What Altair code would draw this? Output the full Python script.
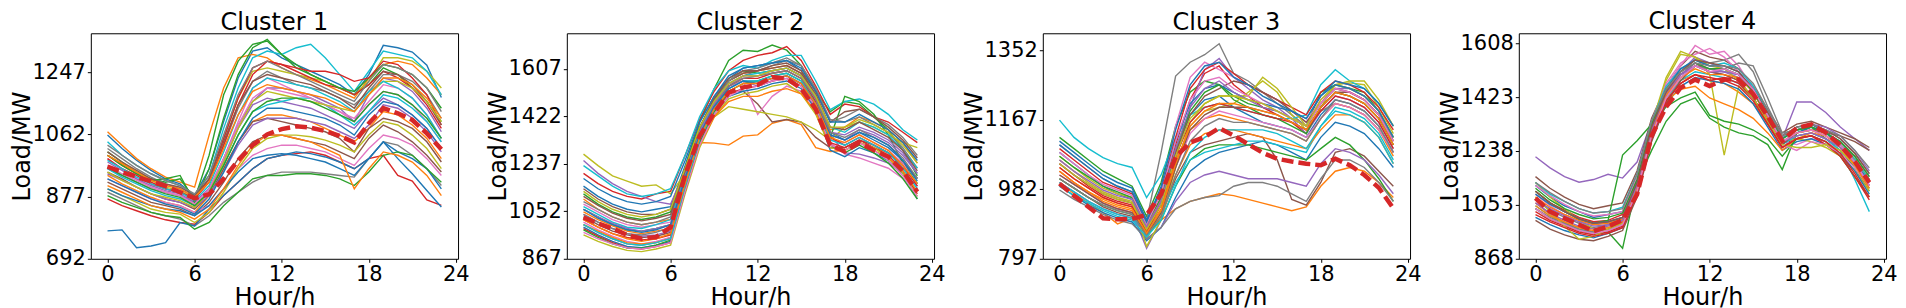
import altair as alt
import pandas as pd

HOURS = list(range(24))
X_TICKS = [0, 6, 12, 18, 24]
TAB10 = ["#1f77b4", "#ff7f0e", "#2ca02c", "#d62728", "#9467bd",
         "#8c564b", "#e377c2", "#7f7f7f", "#bcbd22", "#17becf"]

TITLES = ["Cluster 1", "Cluster 2", "Cluster 3", "Cluster 4"]
Y_DOMAINS = [[692, 1363], [867, 1746], [797, 1397], [868, 1642]]
Y_TICKS = [[692, 877, 1062, 1247], [867, 1052, 1237, 1422, 1607],
           [797, 982, 1167, 1352], [868, 1053, 1238, 1423, 1608]]

C1_LINES = [
    [1060,1020,985,955,930,915,880,960,1100,1230,1310,1320,1290,1270,1250,1230,1210,1180,1240,1327,1320,1307,1268,1172],
    [1070,1030,990,960,935,920,905,1060,1200,1290,1300,1290,1260,1240,1225,1210,1190,1170,1230,1270,1280,1270,1230,1180],
    [1010,980,950,930,920,930,870,1000,1180,1280,1330,1340,1300,1270,1240,1220,1200,1180,1210,1260,1240,1200,1160,1100],
    [870,850,835,820,808,800,795,830,880,920,960,990,1000,1005,1010,1000,980,960,990,1000,940,923,867,851],
    [960,940,920,900,890,880,860,900,980,1080,1150,1170,1160,1150,1140,1120,1100,1080,1130,1170,1150,1120,1080,1020],
    [920,900,880,860,850,840,820,860,920,990,1040,1060,1060,1050,1040,1030,1010,990,1050,1090,1070,1040,1000,950],
    [990,960,930,905,890,880,850,900,990,1100,1200,1230,1210,1190,1170,1150,1130,1100,1150,1190,1180,1150,1100,1040],
    [890,870,850,830,820,810,790,820,860,890,920,940,950,950,950,945,940,935,990,1040,1030,1000,960,910],
    [1000,975,950,925,905,895,870,930,1050,1170,1250,1260,1250,1240,1230,1220,1200,1180,1220,1290,1290,1280,1250,1200],
    [1040,1000,970,945,925,910,880,940,1080,1200,1290,1310,1300,1320,1330,1290,1240,1190,1250,1310,1300,1290,1250,1180],
    [775,778,725,730,740,800,790,840,880,920,960,990,1000,1010,1005,995,980,960,990,1040,1010,990,960,900],
    [940,915,895,875,860,850,830,880,960,1040,1100,1120,1120,1110,1100,1080,1060,1040,1080,1130,1120,1090,1050,990],
    [880,860,845,830,820,815,780,800,850,890,930,940,940,945,945,940,930,910,950,1000,1010,1000,960,920],
    [1000,970,945,920,900,890,870,930,1050,1170,1260,1280,1270,1250,1230,1210,1200,1180,1210,1250,1230,1200,1150,1080],
    [980,955,930,910,895,885,860,900,990,1090,1160,1200,1200,1190,1180,1160,1140,1100,1180,1230,1220,1190,1140,1070],
    [950,930,905,885,870,860,840,880,960,1040,1100,1110,1100,1090,1080,1070,1050,1010,1080,1110,1100,1080,1040,980],
    [930,910,890,870,860,850,830,850,900,960,1000,1020,1030,1030,1020,1010,990,970,1020,1060,1050,1030,990,940],
    [1020,990,960,935,915,900,875,920,1030,1140,1220,1250,1230,1210,1200,1190,1170,1150,1190,1240,1240,1220,1180,1110],
    [900,880,860,840,830,825,800,830,890,960,1020,1050,1060,1060,1055,1045,1030,1010,1060,1100,1090,1060,1020,960],
    [960,935,915,895,880,870,850,890,970,1060,1130,1150,1160,1170,1170,1150,1120,1090,1130,1180,1170,1140,1100,1040],
    [900,880,865,850,840,835,820,850,900,950,990,1000,1005,1000,990,980,960,940,990,1040,990,945,895,846],
    [910,890,870,850,840,830,810,840,900,970,1030,1060,1060,1050,1040,1020,1000,900,960,1010,1000,980,940,880],
    [1000,970,945,925,930,940,860,960,1110,1240,1320,1345,1300,1260,1240,1220,1200,1190,1230,1270,1260,1240,1200,1140],
    [990,960,940,915,900,890,870,920,1030,1150,1240,1280,1270,1260,1250,1250,1240,1220,1230,1280,1270,1230,1180,1090],
    [945,925,905,885,870,860,845,880,950,1030,1090,1110,1110,1110,1100,1090,1070,1050,1090,1150,1140,1110,1070,1010],
    [1010,980,955,930,915,905,880,930,1040,1150,1220,1240,1230,1220,1210,1190,1170,1140,1200,1250,1240,1210,1160,1090],
    [970,945,925,905,890,880,855,900,990,1090,1170,1200,1190,1180,1170,1150,1130,1110,1160,1210,1200,1170,1120,1050],
    [1030,1000,970,945,925,910,885,940,1060,1180,1260,1280,1260,1240,1220,1200,1180,1160,1220,1270,1260,1240,1200,1130],
    [950,925,905,885,875,865,845,890,980,1080,1160,1190,1180,1170,1160,1150,1140,1130,1180,1220,1220,1200,1160,1100],
    [985,960,935,915,900,890,865,910,1010,1120,1200,1230,1220,1210,1200,1180,1160,1130,1190,1220,1200,1170,1120,1050],
    [930,910,890,870,855,845,825,870,950,1040,1110,1140,1140,1130,1120,1110,1090,1060,1120,1160,1150,1120,1080,1020],
    [1000,975,950,925,910,900,875,920,1020,1120,1190,1210,1200,1190,1180,1170,1150,1130,1180,1230,1230,1210,1170,1110],
    [965,940,920,900,885,875,850,890,970,1060,1130,1160,1170,1170,1160,1140,1120,1100,1150,1190,1180,1150,1110,1050],
]
C1_CENTROID = [966,950,936,922,908,890,872,884,930,985,1030,1062,1078,1086,1082,1072,1058,1038,1095,1140,1125,1105,1065,1018]

C2_LINES = [
    [1150,1110,1080,1060,1050,1060,1070,1230,1400,1500,1580,1610,1620,1630,1640,1600,1500,1360,1330,1360,1330,1300,1250,1180],
    [1100,1060,1030,1010,1000,1010,1020,1180,1320,1318,1310,1345,1350,1395,1410,1390,1300,1285,1290,1320,1300,1280,1220,1160],
    [1060,1030,1000,980,975,985,1000,1220,1400,1530,1640,1680,1675,1700,1680,1620,1520,1440,1480,1470,1420,1370,1290,1190],
    [1200,1160,1130,1110,1100,1120,1130,1270,1410,1520,1600,1640,1660,1670,1694,1640,1540,1430,1470,1460,1420,1400,1360,1320],
    [1250,1200,1160,1130,1110,1090,1080,1210,1370,1460,1540,1560,1540,1560,1580,1550,1470,1350,1280,1275,1260,1240,1200,1150],
    [1030,1000,975,960,950,955,970,1160,1350,1460,1520,1520,1470,1400,1410,1400,1340,1300,1300,1330,1310,1280,1240,1180],
    [1080,1050,1020,1000,990,1000,1010,1190,1360,1460,1540,1560,1430,1500,1540,1520,1450,1320,1275,1260,1240,1220,1180,1130],
    [1000,970,945,925,920,930,950,1150,1330,1450,1540,1580,1600,1620,1640,1620,1530,1400,1420,1450,1420,1390,1340,1270],
    [1275,1230,1190,1170,1150,1155,1120,1200,1330,1420,1460,1450,1440,1430,1420,1400,1370,1330,1380,1400,1380,1350,1320,1300],
    [1230,1190,1150,1120,1110,1120,1140,1270,1420,1530,1600,1620,1610,1640,1660,1660,1560,1448,1480,1490,1470,1430,1370,1330],
    [990,960,935,915,910,920,935,1140,1320,1430,1500,1520,1530,1550,1560,1530,1450,1290,1265,1300,1280,1250,1200,1100],
    [1050,1020,995,975,965,975,985,1180,1350,1470,1560,1590,1600,1610,1620,1590,1500,1370,1380,1420,1400,1370,1320,1240],
    [1120,1080,1050,1030,1020,1030,1050,1210,1380,1490,1560,1600,1590,1600,1610,1580,1490,1340,1500,1480,1430,1350,1240,1160],
    [985,955,930,910,905,915,930,1150,1330,1440,1510,1530,1540,1560,1570,1540,1460,1320,1300,1330,1300,1270,1210,1120],
    [1040,1010,985,965,955,960,975,1160,1340,1450,1530,1560,1560,1570,1580,1550,1470,1350,1330,1370,1350,1320,1270,1200],
    [1140,1100,1070,1050,1040,1040,1060,1220,1380,1480,1560,1590,1600,1620,1630,1600,1520,1400,1440,1450,1420,1380,1330,1260],
    [1010,980,955,935,925,935,950,1170,1360,1470,1550,1570,1580,1590,1600,1570,1480,1330,1320,1350,1320,1290,1240,1150],
    [1090,1060,1030,1010,1000,1010,1030,1200,1370,1480,1560,1600,1610,1630,1650,1620,1530,1410,1400,1420,1390,1360,1300,1220],
    [960,935,915,900,895,905,920,1120,1300,1420,1490,1510,1520,1540,1550,1510,1430,1300,1290,1320,1300,1260,1200,1110],
    [1070,1040,1010,990,985,1000,1020,1190,1360,1470,1550,1580,1590,1600,1610,1580,1500,1380,1360,1400,1380,1350,1290,1220],
    [1180,1140,1110,1090,1080,1090,1110,1250,1400,1500,1570,1610,1620,1630,1640,1610,1520,1400,1400,1430,1400,1370,1320,1250],
    [1000,975,950,930,925,930,945,1130,1310,1420,1480,1500,1500,1520,1530,1510,1440,1310,1290,1320,1290,1260,1210,1130],
    [980,950,925,910,908,920,940,1130,1320,1440,1520,1550,1560,1580,1590,1560,1470,1310,1280,1310,1280,1240,1180,1100],
    [1020,990,965,950,940,945,960,1170,1350,1460,1540,1570,1570,1590,1600,1570,1480,1340,1310,1340,1310,1280,1230,1150],
    [1060,1030,1005,985,975,985,1000,1190,1360,1470,1550,1580,1580,1600,1610,1580,1490,1360,1350,1380,1360,1330,1280,1200],
    [1110,1075,1045,1025,1015,1025,1040,1210,1380,1490,1570,1600,1600,1610,1620,1590,1510,1380,1370,1400,1370,1340,1290,1210],
    [970,945,925,910,905,915,930,1130,1310,1430,1500,1530,1540,1560,1570,1540,1460,1310,1290,1320,1290,1250,1190,1110],
    [1040,1010,985,965,960,970,990,1180,1350,1460,1540,1570,1580,1590,1600,1570,1490,1360,1340,1370,1340,1310,1260,1180],
    [1130,1090,1060,1040,1030,1040,1060,1220,1380,1480,1550,1580,1580,1600,1610,1580,1500,1380,1380,1410,1390,1360,1310,1240],
    [1000,970,945,925,920,930,945,1150,1330,1450,1530,1560,1560,1580,1590,1560,1470,1330,1310,1340,1310,1280,1220,1140],
    [1060,1025,1000,980,970,980,1000,1180,1350,1460,1530,1560,1550,1570,1580,1550,1470,1350,1330,1360,1340,1310,1250,1170],
    [1020,990,965,945,935,945,965,1160,1340,1450,1520,1550,1550,1570,1580,1550,1470,1340,1320,1350,1320,1290,1230,1160],
]
C2_CENTROID = [1028,1005,985,960,945,952,990,1195,1345,1435,1515,1535,1545,1575,1570,1530,1450,1310,1285,1320,1290,1265,1210,1128]

C3_LINES = [
    [1080,1050,1020,990,970,955,880,940,1080,1180,1220,1230,1200,1180,1160,1150,1140,1120,1180,1220,1210,1190,1150,1080],
    [1000,970,945,920,890,905,880,900,930,950,960,970,965,955,945,935,925,935,990,1030,1040,1030,1000,960],
    [1120,1090,1060,1030,1010,990,910,1000,1150,1240,1270,1260,1230,1210,1200,1190,1170,1150,1240,1260,1250,1240,1190,1120],
    [1050,1020,990,965,950,940,880,960,1100,1220,1290,1310,1260,1230,1200,1180,1160,1130,1200,1240,1230,1210,1170,1100],
    [1030,1000,970,945,930,920,825,900,1060,1200,1300,1330,1280,1250,1220,1200,1170,1130,1190,1230,1220,1200,1160,1090],
    [1010,985,960,935,920,910,860,910,1010,1080,1100,1110,1120,1130,1120,1060,955,940,1000,1080,1090,1070,1030,990],
    [1060,1030,1000,975,960,945,880,960,1150,1280,1320,1300,1280,1260,1240,1220,1190,1160,1220,1250,1240,1220,1180,1110],
    [1100,1070,1040,1010,990,975,900,1080,1283,1320,1340,1369,1290,1270,1240,1210,1180,1150,1190,1210,1200,1180,1140,1080],
    [1070,1040,1010,985,970,960,850,920,1050,1150,1190,1200,1210,1240,1270,1240,1180,1140,1200,1260,1265,1260,1200,1130],
    [1166,1120,1090,1066,1050,1040,960,1020,1120,1180,1200,1210,1200,1190,1180,1170,1170,1180,1260,1300,1270,1250,1210,1150],
    [990,965,940,920,905,895,845,880,960,1030,1060,1080,1090,1100,1110,1100,1080,1060,1120,1160,1150,1130,1090,1040],
    [1040,1010,985,960,945,935,870,930,1060,1140,1170,1180,1170,1160,1150,1140,1130,1110,1170,1210,1200,1180,1140,1070],
    [1010,985,960,940,925,915,860,900,990,1060,1090,1100,1100,1100,1090,1080,1070,1060,1090,1120,1100,1060,1010,950],
    [1090,1060,1030,1000,985,970,890,980,1120,1250,1300,1320,1290,1260,1240,1220,1200,1180,1240,1270,1260,1240,1200,1140],
    [1000,975,950,930,915,905,850,880,950,1000,1020,1030,1020,1010,1010,1010,1000,990,1050,1090,1080,1060,1020,970],
    [1050,1020,995,970,955,945,880,950,1080,1180,1230,1250,1270,1260,1240,1220,1190,1160,1210,1250,1240,1220,1180,1110],
    [1020,995,970,945,930,920,860,920,1040,1130,1170,1190,1180,1170,1160,1150,1140,1120,1170,1210,1200,1180,1140,1080],
    [980,955,935,915,900,890,850,880,930,950,960,965,990,1000,1000,990,970,950,1010,1060,1060,1040,1000,950],
    [1060,1030,1000,975,960,950,830,900,1040,1160,1210,1230,1230,1230,1280,1250,1200,1150,1210,1260,1270,1270,1220,1150],
    [1000,975,950,930,915,905,870,920,1000,1060,1080,1090,1100,1110,1110,1100,1090,1080,1150,1200,1190,1170,1130,1060],
    [1110,1080,1050,1020,1000,985,900,980,1110,1210,1250,1260,1240,1220,1210,1200,1190,1170,1230,1270,1260,1250,1210,1150],
    [1030,1000,975,950,935,925,860,910,1020,1100,1130,1140,1140,1130,1120,1110,1100,1090,1140,1180,1180,1160,1120,1050],
    [1070,1040,1015,990,975,960,890,960,1090,1190,1240,1260,1220,1200,1180,1170,1150,1130,1200,1240,1230,1210,1170,1100],
    [1040,1010,985,960,945,935,870,940,1070,1160,1200,1210,1200,1190,1180,1170,1160,1140,1190,1230,1220,1200,1160,1090],
    [1060,1030,1005,980,965,955,880,950,1090,1200,1250,1270,1240,1220,1200,1190,1170,1150,1210,1250,1250,1230,1190,1120],
    [1020,995,970,945,930,920,860,920,1040,1140,1180,1200,1200,1200,1190,1180,1160,1140,1200,1240,1240,1220,1180,1110],
    [1080,1050,1020,995,980,965,890,970,1110,1220,1270,1280,1250,1230,1210,1190,1170,1150,1210,1250,1240,1220,1180,1110],
    [1010,985,960,940,925,915,860,910,1020,1110,1150,1170,1160,1160,1150,1140,1130,1110,1170,1220,1210,1190,1150,1080],
    [1050,1020,995,970,955,945,875,940,1070,1170,1210,1230,1230,1220,1210,1190,1170,1150,1220,1260,1250,1230,1190,1120],
    [990,965,945,925,910,900,855,900,990,1080,1120,1140,1140,1140,1140,1130,1110,1090,1150,1190,1180,1160,1120,1050],
    [1100,1070,1040,1010,990,975,895,990,1140,1260,1310,1320,1280,1260,1230,1210,1190,1170,1230,1260,1250,1230,1190,1120],
    [1030,1000,975,955,940,930,865,925,1050,1150,1190,1210,1210,1200,1190,1180,1160,1140,1200,1240,1230,1210,1170,1100],
]
C3_CENTROID = [997,965,935,905,902,903,914,969,1068,1106,1121,1145,1125,1102,1079,1063,1056,1050,1046,1063,1046,1020,986,931]

C4_LINES = [
    [1120,1080,1050,1030,1010,1020,1030,1150,1330,1440,1500,1530,1520,1510,1500,1450,1370,1280,1320,1330,1300,1260,1200,1130],
    [1060,1020,995,975,960,970,990,1100,1300,1420,1480,1500,1480,1470,1440,1400,1330,1260,1300,1310,1290,1260,1210,1140],
    [1040,1005,985,965,950,960,904,1130,1240,1340,1400,1420,1350,1320,1300,1290,1260,1174,1300,1320,1280,1240,1180,1100],
    [1100,1060,1035,1010,995,1000,1020,1120,1310,1430,1500,1540,1510,1500,1480,1420,1340,1250,1290,1300,1280,1250,1190,1120],
    [1218,1180,1150,1131,1140,1158,1145,1200,1340,1440,1510,1560,1540,1520,1500,1440,1350,1280,1406,1406,1370,1320,1280,1240],
    [1150,1110,1080,1055,1040,1050,1060,1170,1350,1460,1530,1580,1560,1550,1520,1460,1380,1300,1330,1340,1320,1300,1280,1250],
    [1090,1050,1020,1000,985,995,1010,1140,1330,1460,1530,1600,1570,1580,1530,1450,1360,1270,1260,1280,1270,1240,1190,1120],
    [1070,1035,1010,990,975,985,1000,1120,1310,1440,1510,1550,1540,1550,1570,1510,1390,1290,1310,1320,1300,1270,1220,1150],
    [1130,1080,1040,1000,970,975,990,1110,1320,1480,1570,1560,1500,1224,1460,1420,1340,1270,1280,1270,1250,1220,1170,1100],
    [1050,1015,990,970,955,965,985,1100,1290,1410,1480,1510,1500,1490,1470,1420,1340,1260,1290,1300,1280,1240,1140,1030],
    [1010,985,965,950,940,955,975,1090,1280,1400,1460,1490,1480,1470,1450,1400,1320,1240,1270,1280,1260,1230,1170,1090],
    [1080,1045,1020,1000,985,990,1005,1120,1300,1410,1450,1460,1420,1400,1380,1350,1300,1240,1280,1300,1290,1260,1210,1140],
    [1100,1060,1030,1005,990,1000,1224,1273,1330,1390,1420,1440,1360,1340,1330,1310,1280,1220,1280,1290,1270,1220,1150,1080],
    [1030,1000,980,960,950,960,980,1100,1290,1410,1470,1500,1480,1490,1470,1420,1330,1250,1280,1290,1260,1220,1150,1070],
    [1060,1025,1000,980,970,980,995,1110,1300,1430,1500,1540,1520,1510,1490,1440,1360,1280,1310,1330,1320,1290,1240,1170],
    [1000,970,950,935,930,945,965,1080,1270,1400,1480,1530,1510,1500,1480,1420,1340,1260,1300,1310,1300,1290,1270,1240],
    [1120,1085,1055,1030,1015,1020,1030,1150,1340,1470,1540,1570,1590,1560,1510,1440,1350,1260,1240,1270,1260,1230,1180,1110],
    [1040,1010,990,970,960,970,990,1100,1290,1420,1490,1530,1520,1520,1540,1530,1420,1300,1310,1330,1310,1280,1230,1160],
    [1080,1030,980,935,945,970,990,1120,1330,1490,1580,1560,1530,1520,1480,1420,1340,1260,1250,1250,1260,1240,1190,1110],
    [1130,1090,1065,1040,1025,1030,1045,1160,1340,1460,1520,1550,1530,1540,1520,1460,1370,1280,1310,1320,1300,1270,1210,1140],
    [1090,1055,1030,1005,990,995,1010,1130,1320,1450,1520,1550,1530,1530,1510,1450,1360,1270,1300,1320,1300,1260,1200,1130],
    [1050,1015,995,975,965,975,995,1110,1300,1430,1490,1520,1500,1500,1490,1440,1350,1270,1300,1310,1290,1250,1190,1110],
    [1110,1070,1040,1020,1005,1010,1025,1140,1330,1450,1510,1540,1520,1520,1500,1440,1360,1280,1310,1320,1300,1270,1220,1150],
    [1020,995,975,955,945,955,975,1090,1280,1410,1470,1500,1490,1480,1460,1410,1330,1250,1280,1290,1270,1230,1160,1080],
    [1070,1040,1015,995,980,985,1000,1120,1310,1440,1500,1530,1510,1510,1500,1450,1360,1270,1290,1300,1280,1250,1200,1120],
    [1100,1060,1030,1005,990,995,1010,1130,1320,1440,1510,1550,1540,1530,1510,1450,1370,1290,1320,1330,1310,1280,1230,1160],
    [1040,1005,985,965,955,965,985,1100,1290,1420,1490,1530,1510,1520,1500,1450,1360,1270,1300,1310,1290,1260,1200,1120],
    [1130,1095,1065,1040,1025,1030,1040,1160,1340,1450,1510,1540,1530,1530,1520,1470,1380,1290,1320,1330,1310,1290,1240,1180],
]
C4_CENTROID = [1076,1030,1007,985,963,979,1001,1089,1290,1389,1455,1483,1461,1483,1483,1433,1356,1273,1317,1329,1301,1258,1202,1130]

ALL_LINES = [C1_LINES, C2_LINES, C3_LINES, C4_LINES]
ALL_CENTROIDS = [C1_CENTROID, C2_CENTROID, C3_CENTROID, C4_CENTROID]

FONT = "DejaVu Sans"
PANEL_W = 368
PANEL_H = 226


def build_panel(lines, centroid, title, ydom, yticks):
    rows = []
    for i, ln in enumerate(lines):
        assert len(ln) == 24, (title, i, len(ln))
        for h, v in zip(HOURS, ln):
            rows.append({"hour": h, "load": v, "line": f"L{i:02d}",
                         "color": TAB10[i % 10]})
    df = pd.DataFrame(rows)
    assert len(centroid) == 24
    cdf = pd.DataFrame({"hour": HOURS, "load": centroid})

    xsc = alt.Scale(domain=[-1.15, 24.15], nice=False, zero=False)
    ysc = alt.Scale(domain=ydom, nice=False, zero=False)
    xax = alt.Axis(values=X_TICKS, title="Hour/h", format="d",
                   labelFlush=False, labelOverlap=False,
                   labelPadding=1, titlePadding=1.5)
    yax = alt.Axis(values=yticks, title="Load/MW", format="d",
                   labelFlush=False, labelOverlap=False, labelPadding=2,
                   titleX=-68, titleY=PANEL_H / 2, titleAngle=270,
                   titleBaseline="middle", titleAlign="center")

    lines_layer = alt.Chart(df).mark_line(strokeWidth=1.4, clip=True).encode(
        x=alt.X("hour:Q", scale=xsc, axis=xax),
        y=alt.Y("load:Q", scale=ysc, axis=yax),
        color=alt.Color("color:N", scale=None),
        detail="line:N",
    )
    cent_layer = alt.Chart(cdf).mark_line(
        color="#d62728", strokeWidth=4.5, strokeDash=[12, 5], clip=True
    ).encode(
        x=alt.X("hour:Q", scale=xsc),
        y=alt.Y("load:Q", scale=ysc),
    )
    return alt.layer(lines_layer, cent_layer).properties(
        width=PANEL_W, height=PANEL_H,
        title=alt.TitleParams(title, fontSize=24, fontWeight="normal",
                              font=FONT, color="black", offset=-2),
    )


panels = [build_panel(l, c, t, d, tk) for l, c, t, d, tk in
          zip(ALL_LINES, ALL_CENTROIDS, TITLES, Y_DOMAINS, Y_TICKS)]

chart = alt.hconcat(*panels, spacing=109, bounds="flush").properties(
    padding={"left": 2, "right": 0, "top": 1, "bottom": 0}
).configure_axis(
    grid=False, domain=False, tickColor="black", tickSize=3.5, tickWidth=1,
    labelFont=FONT, labelFontSize=21, labelColor="black",
    titleFont=FONT, titleFontSize=24, titleFontWeight="normal", titleColor="black",
).configure_view(stroke="black", strokeWidth=1)

chart.save("out.html", embed_options={"renderer": "svg", "actions": False})
